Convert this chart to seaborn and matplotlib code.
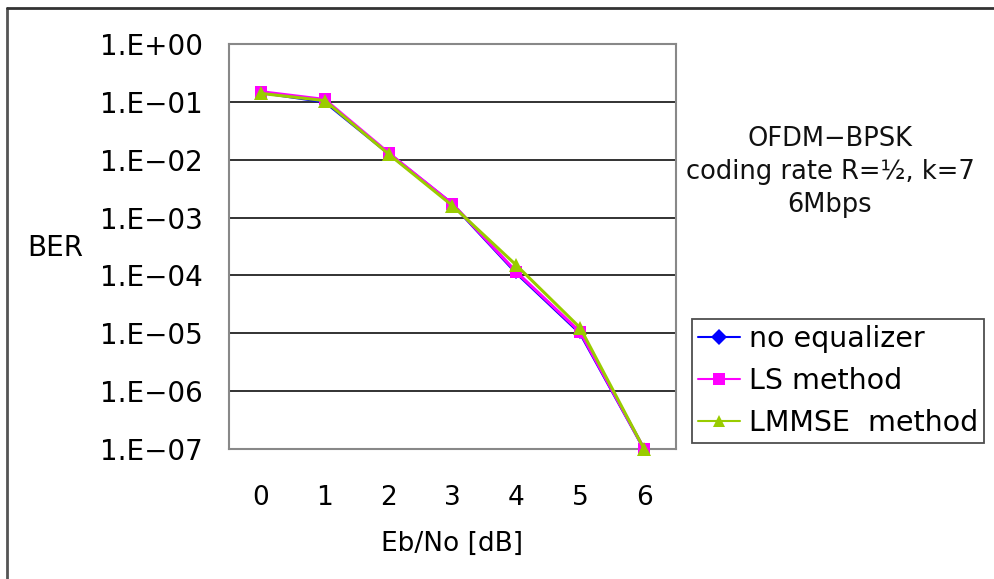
import matplotlib
matplotlib.use("Agg")
import matplotlib.pyplot as plt
import seaborn as sns
import pandas as pd
import numpy as np
from matplotlib.lines import Line2D

ebno = [0, 1, 2, 3, 4, 5, 6]
ber_no_eq = [0.145, 0.100, 0.0128, 0.00170, 1.10e-4, 1.00e-5, 1.0e-7]
ber_ls = [0.150, 0.110, 0.0131, 0.00172, 1.15e-4, 1.05e-5, 1.0e-7]
ber_lmmse = [0.140, 0.105, 0.0125, 0.00160, 1.50e-4, 1.24e-5, 1.0e-7]
series_names = ["no equalizer", "LS method", "LMMSE  method"]
ytick_vals = [1e0, 1e-1, 1e-2, 1e-3, 1e-4, 1e-5, 1e-6, 1e-7]
ytick_labels = ["1.E+00", "1.E\u221201", "1.E\u221202", "1.E\u221203",
                "1.E\u221204", "1.E\u221205", "1.E\u221206", "1.E\u221207"]

df = pd.DataFrame({
    "Eb/No": ebno * 3,
    "BER": ber_no_eq + ber_ls + ber_lmmse,
    "series": [series_names[0]] * 7 + [series_names[1]] * 7 + [series_names[2]] * 7,
})

sns.set_theme(style="white")
plt.rcParams["font.family"] = ["DejaVu Sans"]
plt.rcParams["text.color"] = "black"
plt.rcParams["xtick.color"] = "black"
plt.rcParams["ytick.color"] = "black"
plt.rcParams["axes.labelcolor"] = "black"

fig = plt.figure(figsize=(9.95, 5.79), dpi=100)
ax = fig.add_axes([229 / 995, 1 - 449 / 579, 447 / 995, 405 / 579])

palette = {series_names[0]: "#0000FF", series_names[1]: "#FF00FF", series_names[2]: "#99CC00"}
markers = {series_names[0]: "D", series_names[1]: "s", series_names[2]: "^"}
sizes = {series_names[0]: 6, series_names[1]: 9, series_names[2]: 10}

for name in series_names:
    sub = df[df["series"] == name]
    sns.lineplot(data=sub, x="Eb/No", y="BER", ax=ax, color=palette[name],
                 marker=markers[name], markersize=sizes[name], markeredgewidth=0,
                 linewidth=2.2, label=name, clip_on=False, zorder=3)

ax.set_yscale("log")
ax.set_ylim(1e-7, 1e0)
ax.set_xlim(-0.5, 6.5)
ax.set_yticks(ytick_vals)
ax.set_yticklabels(ytick_labels)
ax.yaxis.set_minor_locator(matplotlib.ticker.NullLocator())
ax.set_xticks(ebno)
ax.set_xticklabels([str(v) for v in ebno])
ax.grid(axis="y", which="major", color="#222222", linewidth=1.3)
ax.grid(axis="x", visible=False)
ax.set_axisbelow(True)
for s in ax.spines.values():
    s.set_color("#888888")
    s.set_linewidth(1.5)
ax.tick_params(axis="y", length=0, pad=19, labelsize=20)
ax.tick_params(axis="x", length=0, pad=26, labelsize=19)
ax.set_xlabel("Eb/No [dB]", fontsize=19, labelpad=14)
ax.set_ylabel("")
fig.text(55 / 995, 1 - 248 / 579, "BER", ha="center", va="center", fontsize=20)

leg = ax.legend(loc="upper left", bbox_to_anchor=(692 / 995, 1 - 319 / 579),
                bbox_transform=fig.transFigure, frameon=True, fancybox=False,
                fontsize=20.5, handlelength=1.5, handletextpad=0.3,
                borderpad=0.2, labelspacing=0.5, borderaxespad=0)
leg.get_frame().set_edgecolor("#222222")
leg.get_frame().set_linewidth(1.3)
for h in leg.legend_handles:
    h.set_markersize(8)
    h.set_linewidth(1.5)

fig.text(830 / 995, 1 - 172 / 579, "OFDM\u2212BPSK\ncoding rate R=\u00bd, k=7\n6Mbps",
         ha="center", va="center", fontsize=18.5, linespacing=1.35, color="#111111")

fig.add_artist(Line2D([7 / 995, 7 / 995], [0, 1 - 8 / 579], transform=fig.transFigure,
                      color="#555555", linewidth=2))
fig.add_artist(Line2D([7 / 995, 1], [1 - 8 / 579, 1 - 8 / 579], transform=fig.transFigure,
                      color="#333333", linewidth=2))

fig.savefig("out.png", dpi=100)
